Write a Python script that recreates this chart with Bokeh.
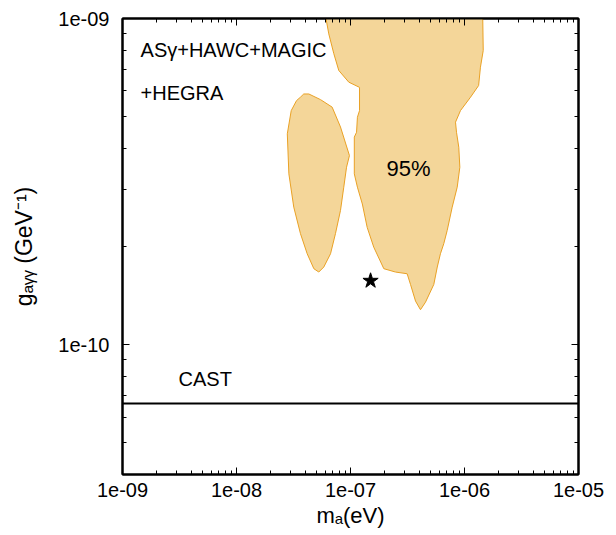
import numpy as np
from bokeh.plotting import figure
from bokeh.models import (FixedTicker, CustomJSTickFormatter, LogAxis, Label, Range1d)
from bokeh.embed import file_html
from bokeh.resources import INLINE

# ---- data (m_a in eV, g_agg in GeV^-1) ----
x_ticks = [1e-9, 1e-8, 1e-7, 1e-6, 1e-5]
y_ticks = [1e-10, 1e-9]

# left 95% island
left_m = [3.89e-8, 4.31e-8, 5.46e-8, 6.90e-8, 8.17e-8, 9.79e-8, 9.23e-8, 8.73e-8,
          8.17e-8, 7.38e-8, 6.68e-8, 5.83e-8, 5.27e-8, 4.77e-8, 4.17e-8, 3.64e-8,
          3.18e-8, 2.88e-8, 2.79e-8, 3.02e-8, 3.36e-8, 3.64e-8]
left_g = [5.87e-10, 5.87e-10, 5.64e-10, 5.35e-10, 4.65e-10, 3.80e-10, 3.50e-10, 3.04e-10,
          2.58e-10, 2.19e-10, 1.90e-10, 1.73e-10, 1.67e-10, 1.71e-10, 1.90e-10, 2.19e-10,
          2.64e-10, 3.34e-10, 4.43e-10, 5.22e-10, 5.60e-10, 5.74e-10]

# main 95% region (extends above the plotted range)
main_m = [5.80e-8, 6.45e-8, 7.14e-8, 7.89e-8, 9.66e-8, 1.20e-7, 1.20e-7, 1.15e-7,
          1.13e-7, 1.08e-7, 1.08e-7, 1.15e-7, 1.27e-7, 1.40e-7, 1.60e-7, 1.96e-7,
          2.48e-7, 3.14e-7, 3.36e-7, 3.72e-7, 4.11e-7, 4.55e-7, 5.38e-7, 5.77e-7,
          6.15e-7, 6.58e-7, 7.05e-7, 7.80e-7, 8.63e-7, 9.10e-7, 8.91e-7, 8.51e-7,
          8.34e-7, 9.22e-7, 1.13e-6, 1.33e-6, 1.38e-6, 1.46e-6, 1.44e-6]
main_g = [1.10e-9, 8.97e-10, 7.80e-10, 6.93e-10, 6.38e-10, 6.15e-10, 5.22e-10, 4.98e-10,
          4.48e-10, 4.33e-10, 3.34e-10, 3.04e-10, 2.70e-10, 2.29e-10, 1.99e-10, 1.71e-10,
          1.67e-10, 1.65e-10, 1.53e-10, 1.36e-10, 1.28e-10, 1.35e-10, 1.53e-10, 1.73e-10,
          1.90e-10, 2.04e-10, 2.24e-10, 2.64e-10, 3.04e-10, 3.50e-10, 4.03e-10, 4.48e-10,
          4.81e-10, 5.22e-10, 5.74e-10, 6.23e-10, 7.09e-10, 7.98e-10, 1.10e-9]

best_m = [1.5e-7]
best_g = [1.57e-10]

cast_m = [1e-9, 1e-5]
cast_g = [6.6e-11, 6.6e-11]

FONT = "Liberation Sans"

p = figure(x_axis_type="log", y_axis_type="log",
           x_range=Range1d(1e-9, 1e-5), y_range=Range1d(4e-11, 1e-9),
           frame_width=456, frame_height=456,
           min_border_left=122, min_border_top=18, min_border_right=30,
           min_border_bottom=61,
           output_backend="svg", toolbar_location=None)
p.grid.visible = False
p.outline_line_color = "black"
p.outline_line_width = 2
p.background_fill_color = "white"
p.border_fill_color = "white"

p.patch(main_m, main_g, fill_color="#F4D699", line_color="#E9A125", line_width=1)
p.patch(left_m, left_g, fill_color="#F4D699", line_color="#E9A125", line_width=1)
p.line(cast_m, cast_g, line_color="black", line_width=2)
p.scatter(best_m, best_g, marker="star", size=16, color="black")

fmt = CustomJSTickFormatter(code=r"""
const s = tick.toExponential(0);
return s.replace(/e([+-])(\d)$/, (m, a, b) => "e" + a + "0" + b);
""")
blank = CustomJSTickFormatter(code="return ' ';")

x_minor = [m * d for d in x_ticks[:-1] for m in range(2, 10)]
y_minor = [m * 1e-11 for m in range(4, 10)] + [m * 1e-10 for m in range(2, 10)]


def style(ax, ticks, minor, labels=True):
    ax.ticker = FixedTicker(ticks=ticks, minor_ticks=minor)
    ax.axis_line_color = "black"
    ax.axis_line_width = 2
    ax.major_tick_in = 7
    ax.major_tick_out = 0
    ax.minor_tick_in = 4
    ax.minor_tick_out = 0
    ax.major_tick_line_color = "black"
    ax.minor_tick_line_color = "black"
    ax.major_tick_line_width = 1
    ax.minor_tick_line_width = 1
    ax.major_label_text_font = FONT
    ax.major_label_text_color = "black"
    if labels:
        ax.formatter = fmt
        ax.major_label_text_font_size = "20px"
        ax.axis_label_text_font = FONT
        ax.axis_label_text_font_size = "22px"
        ax.axis_label_text_font_style = "normal"
        ax.axis_label_text_color = "black"
    else:
        ax.formatter = blank
        ax.major_label_text_font_size = "1px"
        ax.major_label_standoff = 0


style(p.xaxis[0], x_ticks, x_minor)
style(p.yaxis[0], y_ticks, y_minor)
p.xaxis[0].axis_label = "mₐ(eV)"
p.yaxis[0].axis_label = "gₐᵧᵧ (GeV⁻¹)"
p.yaxis[0].axis_label_text_font_size = "23px"
p.xaxis[0].major_label_standoff = 8
p.yaxis[0].major_label_standoff = 13
p.xaxis[0].axis_label_standoff = 3
p.yaxis[0].axis_label_standoff = 18

top_ax = LogAxis()
style(top_ax, x_ticks, x_minor, labels=False)
p.add_layout(top_ax, "above")
right_ax = LogAxis()
style(right_ax, y_ticks, y_minor, labels=False)
p.add_layout(right_ax, "right")

for txt, x, y, size, align in [("ASγ+HAWC+MAGIC", 1.44e-9, 7.98e-10, "20px", "left"),
                               ("+HEGRA", 1.44e-9, 5.93e-10, "20px", "left"),
                               ("95%", 3.23e-7, 3.47e-10, "22px", "center"),
                               ("CAST", 3.10e-9, 7.87e-11, "20px", "left")]:
    p.add_layout(Label(x=x, y=y, text=txt, text_font=FONT, text_font_size=size,
                       text_align=align, text_baseline="middle", text_color="black"))

open("out.html", "w").write(file_html(p, INLINE))
